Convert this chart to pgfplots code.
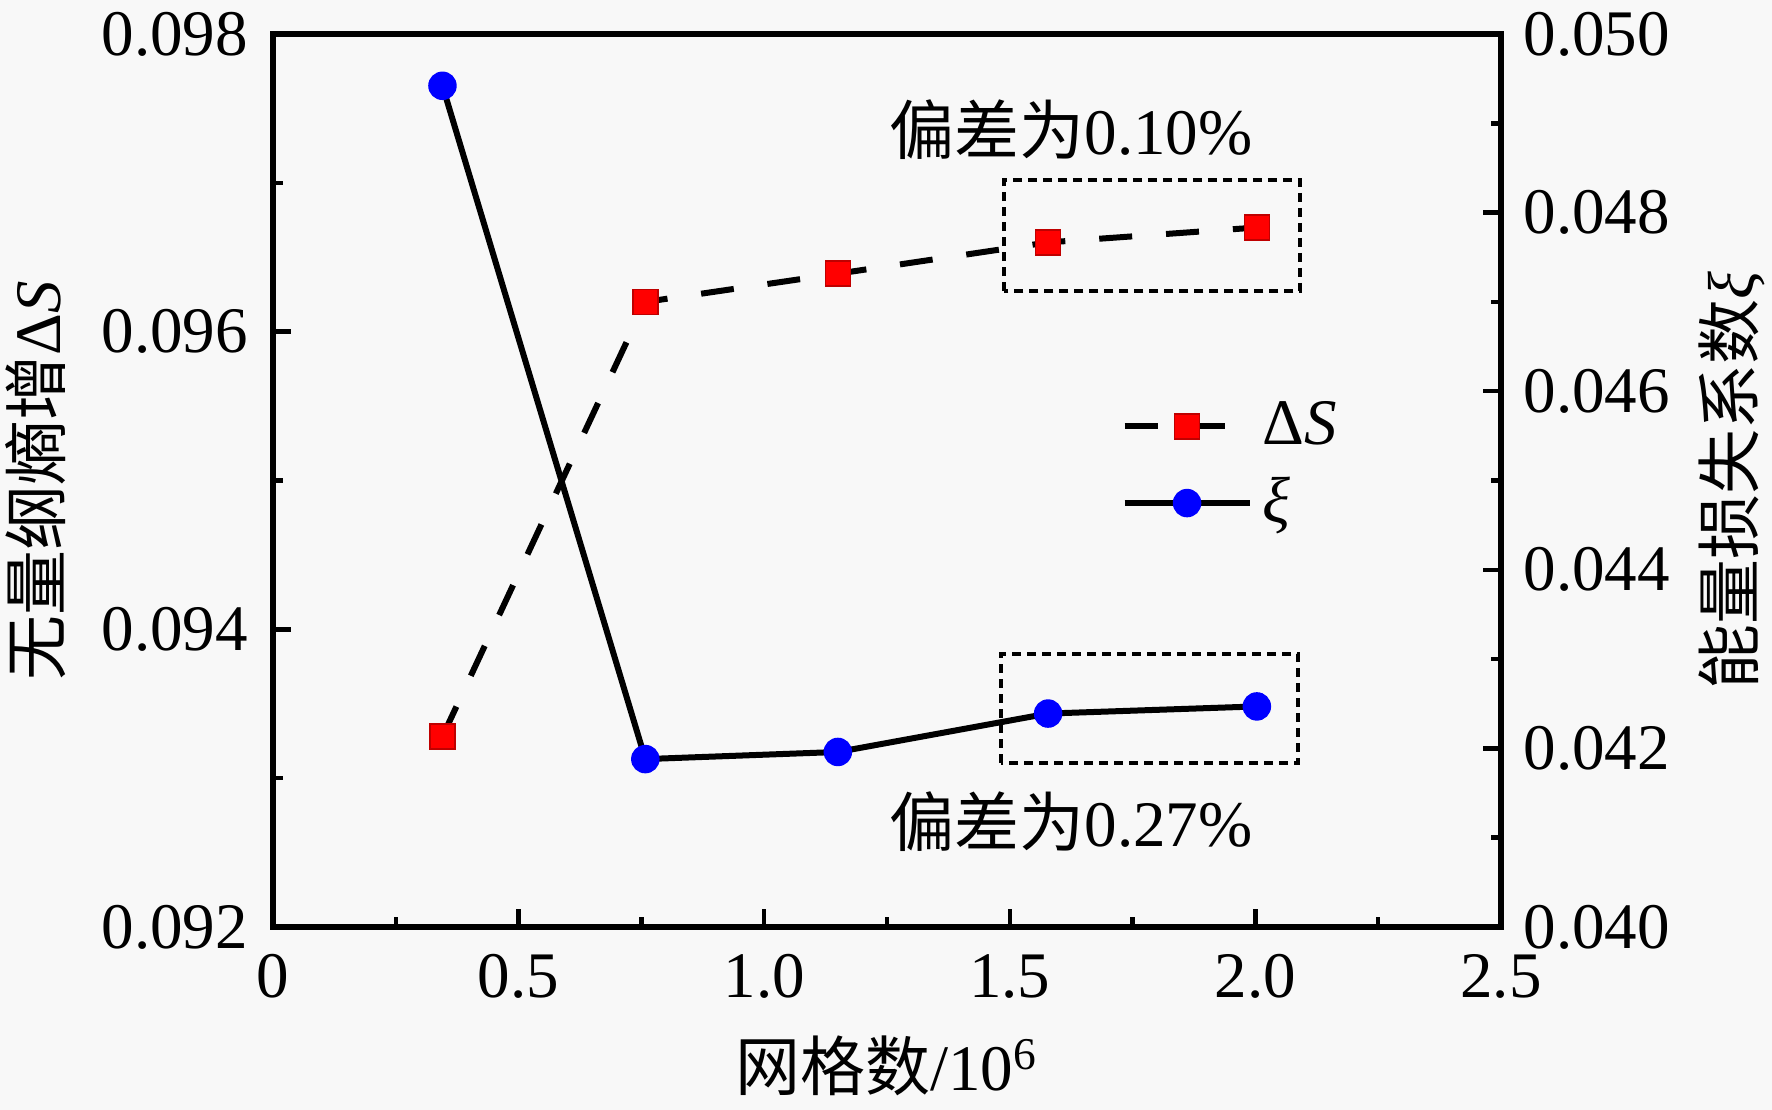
\documentclass[border=0pt]{standalone}
\usepackage{fontspec}
\setmainfont{Liberation Serif}
\newfontfamily\tnr{Liberation Serif}
\newfontfamily\cjk{Noto Sans CJK SC}
\usepackage{pgfplots}
\pgfplotsset{compat=1.18}
\definecolor{bgc}{RGB}{248,248,248}
\definecolor{mred}{RGB}{255,0,0}
\definecolor{mblue}{RGB}{0,0,255}
\begin{document}
\begin{tikzpicture}[font=\tnr]
\fill[bgc] (-54.6pt,-36.6pt) rectangle ++(354.4pt,222pt);
\pgfplotsset{
  common/.style={
    width=245.6pt, height=178.6pt, scale only axis,
    xmin=0, xmax=2.5,
    font=\tnr\fontsize{13}{15.6}\selectfont,
    axis line style={line width=1.1pt},
    tick style={line width=0.9pt, black},
    major tick length=3.6pt, minor tick length=2pt,
    tick align=inside,
    /pgf/number format/assume math mode=true,
    scaled y ticks=false,
    yticklabel style={/pgf/number format/fixed, /pgf/number format/precision=3, /pgf/number format/fixed zerofill},
    legend image code/.code={\draw[mark repeat=2,mark phase=2,##1] plot coordinates {(0pt,0pt) (12.5pt,0pt) (25pt,0pt)};},
  },
  dsstyle/.style={black, line width=1.2pt, dash pattern=on 6.6pt off 6.8pt, mark=square*, mark size=2.5pt,
    mark options={solid, fill=mred, draw=mred!75!black, line width=0.3pt}},
  xistyle/.style={black, line width=1.2pt, solid, mark=*, mark size=2.7pt,
    mark options={solid, fill=mblue, draw=mblue, line width=0.3pt}},
}
\begin{axis}[common,
  ymin=0.092, ymax=0.098,
  ytick={0.092,0.094,0.096,0.098}, minor ytick={0.093,0.095,0.097},
  xtick={0,0.5,1,1.5,2,2.5}, xticklabels={0,0.5,1.0,1.5,2.0,2.5},
  minor xtick={0.25,0.75,1.25,1.75,2.25},
  xtick pos=left, ytick pos=left,
  xticklabel style={yshift=-2pt},
  yticklabel style={xshift=-1.5pt},
  xlabel={{\cjk 网格数}{\tnr /10\textsuperscript{6}}},
  xlabel style={at={(axis description cs:0.5,-0.156)}, anchor=center},
  ylabel={{\cjk 无量纲熵增}{\tnr Δ\textit{S}}},
  ylabel style={at={(axis description cs:-0.193,0.5)}, anchor=center},
]
\addplot[dsstyle] coordinates {
  (0.345,0.09328) (0.758,0.09620) (1.150,0.09639) (1.578,0.09660) (2.003,0.09670)
};
\draw[dash pattern=on 1.8pt off 1.2pt, line width=0.7pt] (axis cs:1.488,0.096273) rectangle (axis cs:2.091,0.097019);
\draw[dash pattern=on 1.8pt off 1.2pt, line width=0.7pt] (axis cs:1.482,0.093102) rectangle (axis cs:2.087,0.093834);
\node[font=\tnr\fontsize{13}{15.6}\selectfont] at (axis cs:1.625,0.097355) {{\cjk 偏差为}{\tnr 0.10\%}};
\node[font=\tnr\fontsize{13}{15.6}\selectfont] at (axis cs:1.625,0.092708) {{\cjk 偏差为}{\tnr 0.27\%}};
\end{axis}
\begin{axis}[common,
  ymin=0.040, ymax=0.050,
  ytick={0.040,0.042,0.044,0.046,0.048,0.050}, minor ytick={0.041,0.043,0.045,0.047,0.049},
  axis x line=none, axis y line*=right, ytick pos=right,
  yticklabel style={xshift=1pt},
  ylabel={{\cjk 能量损失系数}{\tnr\itshape ξ}},
  ylabel style={at={(axis description cs:1.188,0.5)}, anchor=center, rotate=0},
  legend style={draw=none, fill=none, at={(axis description cs:0.678,0.517)}, anchor=west,
    font=\tnr\fontsize{13}{15.6}\selectfont, row sep=1pt},
  legend cell align=left,
]
\addlegendimage{dsstyle}
\addlegendentry{{\tnr Δ\itshape S}}
\addplot[xistyle] coordinates {
  (0.345,0.04942) (0.758,0.04188) (1.150,0.04196) (1.578,0.04239) (2.003,0.04247)
};
\addlegendentry{{\tnr\itshape ξ}}
\end{axis}
\pgfresetboundingbox
\path (-54.6pt,-36.6pt) rectangle ++(354.4pt,222pt);
\end{tikzpicture}
\end{document}
